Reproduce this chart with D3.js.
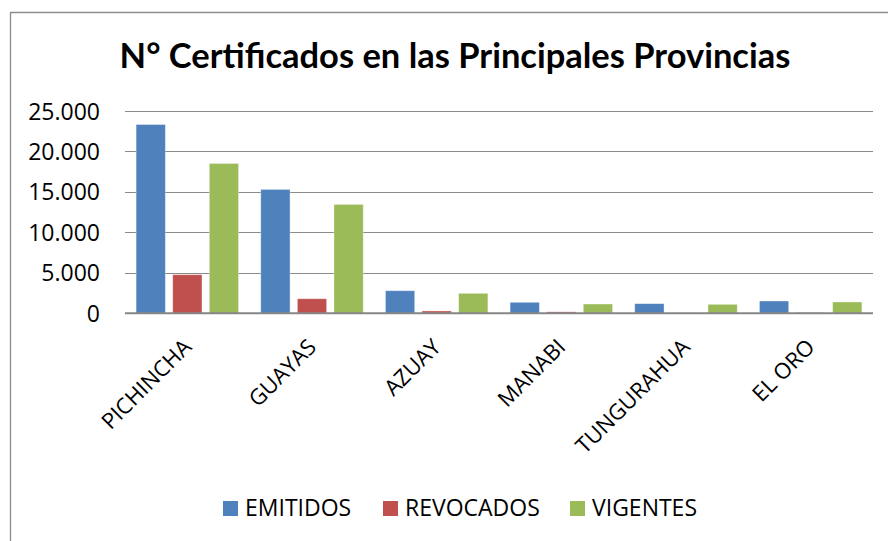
<!DOCTYPE html>
<html>
<head>
<meta charset="utf-8">
<script src="https://d3js.org/d3.v7.min.js"></script>
<style>
	body { margin: 0; background: #fff; }
	svg { display: block; }
</style>
</head>
<body>
<div id="chart"></div>
<script>
/* clustered bar chart: certificados por provincia
 * three series per province, excel-ish look
 */

// data
var provincias = [ "PICHINCHA" , "GUAYAS" , "AZUAY" , "MANABI" , "TUNGURAHUA" , "EL ORO" ];
var series     = [ "EMITIDOS" , "REVOCADOS" , "VIGENTES" ];
var emitidos   = [ 23330 , 15310 , 2790 , 1360 , 1190 , 1520 ];
var revocados  = [ 4770 , 1800 , 290 , 180 , 50 , 90 ];
var vigentes   = [ 18520 , 13460 , 2470 , 1150 , 1110 , 1400 ];
var yTicks     = [ 0 , 5000 , 10000 , 15000 , 20000 , 25000 ];
var colores    = [ "#4f81bd" , "#c0504d" , "#9bbb59" ];

const TITLE = "N° Certificados en las Principales Provincias";
const FONT = "'Open Sans', 'DejaVu Sans', sans-serif";
const TITLE_FONT = "Lato, 'Open Sans', sans-serif";

//~~~~~~~~~~~~~~~~~~~~~~~~~~~~~~~~~~~~~~~~~~~~~~~~~~~~~~~~~~~~~~~~~~~~~~
// 25000 -> "25.000"
function fmt( v ){
	return d3.format(",")(v).replace(/,/g , ".");
}

// shrink / grow font so the text is a given width
function fitWidth( txt , target ){
	var w = txt.node().getComputedTextLength();
	var size = parseFloat( txt.attr("font-size") );
	txt.attr("font-size" , size * target / w);
}

//~~~~~~~~~~~~~~~~~~~~~~~~~~~~~~~~~~~~~~~~~~~~~~~~~~~~~~~~~~~~~~~~~~~~~~
function main(){

	var width = 888,
		height = 541;

	var svg = d3.select("#chart").append("svg")
		.attr("width" , width)
		.attr("height" , height)
		.style("font-family" , FONT);

	svg.append("rect")
		.attr("width" , width)
		.attr("height" , height)
		.attr("fill" , "#fff");

	// chart frame (only top and left edge show up)
	svg.append("path")
		.attr("d" , "M10.5," + height + "V12.5H" + width)
		.attr("fill" , "none")
		.attr("stroke" , "#8c8c8c")
		.attr("stroke-width" , 1.3);

	// title
	var title = svg.append("text")
		.attr("x" , 455)
		.attr("y" , 68)
		.attr("text-anchor" , "middle")
		.attr("font-family" , TITLE_FONT)
		.attr("font-weight" , "bold")
		.attr("font-size" , 36)
		.attr("fill" , "#000")
		.text(TITLE);
	fitWidth( title , 671 );

	// scales
	var x0 = d3.scaleBand()
		.domain(provincias)
		.range([125 , 873])
		.paddingInner(0.178)
		.paddingOuter(0.089);

	var x1 = d3.scaleBand()
		.domain(series)
		.range([0 , x0.bandwidth()])
		.paddingInner(0.2);

	var y = d3.scaleLinear()
		.domain([0 , 25000])
		.range([313.3 , 111]);

	// gridlines
	svg.selectAll(".grid")
		.data( yTicks.filter( d => d > 0 ) ).enter()
		.append("line")
		.attr("class" , "grid")
		.attr("x1" , 125)
		.attr("x2" , 873)
		.attr("y1" , d => Math.round(y(d)) + 0.5)
		.attr("y2" , d => Math.round(y(d)) + 0.5)
		.attr("stroke" , "#8a8a8a")
		.attr("stroke-width" , 1.2);

	// y axis labels (no axis line in the original)
	var yAxis = d3.axisLeft(y)
		.tickValues(yTicks)
		.tickFormat(fmt)
		.tickSize(0)
		.tickPadding(0);

	var gy = svg.append("g")
		.attr("transform" , "translate(100,0)")
		.call(yAxis);
	gy.select(".domain").remove();
	gy.selectAll("text")
		.attr("font-family" , FONT)
		.attr("font-size" , 23)
		.attr("fill" , "#000")
		.attr("dy" , "0.35em");

	// bars
	var values = [ emitidos , revocados , vigentes ];

	var groups = svg.selectAll(".serie")
		.data(series).enter()
		.append("g")
		.attr("class" , "serie")
		.attr("fill" , (s , i) => colores[i]);

	groups.selectAll("rect")
		.data( (s , i) => provincias.map( (p , j) => ({ prov: p , serie: s , v: values[i][j] }) ) )
		.enter()
		.append("rect")
		.attr("x" , d => x0(d.prov) + x1(d.serie))
		.attr("width" , x1.bandwidth())
		.attr("y" , d => y(d.v))
		.attr("height" , d => y(0) - y(d.v))
		.attr("stroke" , "rgba(255,255,255,0.45)")
		.attr("stroke-width" , 0.8);

	// x axis line
	svg.append("line")
		.attr("x1" , 125)
		.attr("x2" , 873)
		.attr("y1" , y(0))
		.attr("y2" , y(0))
		.attr("stroke" , "#868686")
		.attr("stroke-width" , 2);

	// rotated category labels
	svg.selectAll(".prov")
		.data(provincias).enter()
		.append("text")
		.attr("class" , "prov")
		.attr("transform" , d => "translate(" + (x0(d) + x0.bandwidth() / 2) + ",343) rotate(-45)")
		.attr("text-anchor" , "end")
		.attr("dy" , "0.35em")
		.attr("font-size" , 22)
		.attr("fill" , "#000")
		.text(d => d);

	// legend
	var legX = [ 223 , 383 , 570 ];

	var leg = svg.selectAll(".leg")
		.data(series).enter()
		.append("g")
		.attr("class" , "leg")
		.attr("transform" , (d , i) => "translate(" + legX[i] + ",501)");

	leg.append("rect")
		.attr("width" , 15)
		.attr("height" , 15)
		.attr("fill" , (d , i) => colores[i]);

	leg.append("text")
		.attr("x" , 22)
		.attr("y" , 15)
		.attr("font-size" , 23)
		.attr("fill" , "#000")
		.text(d => d);
}

main();
</script>
</body>
</html>
